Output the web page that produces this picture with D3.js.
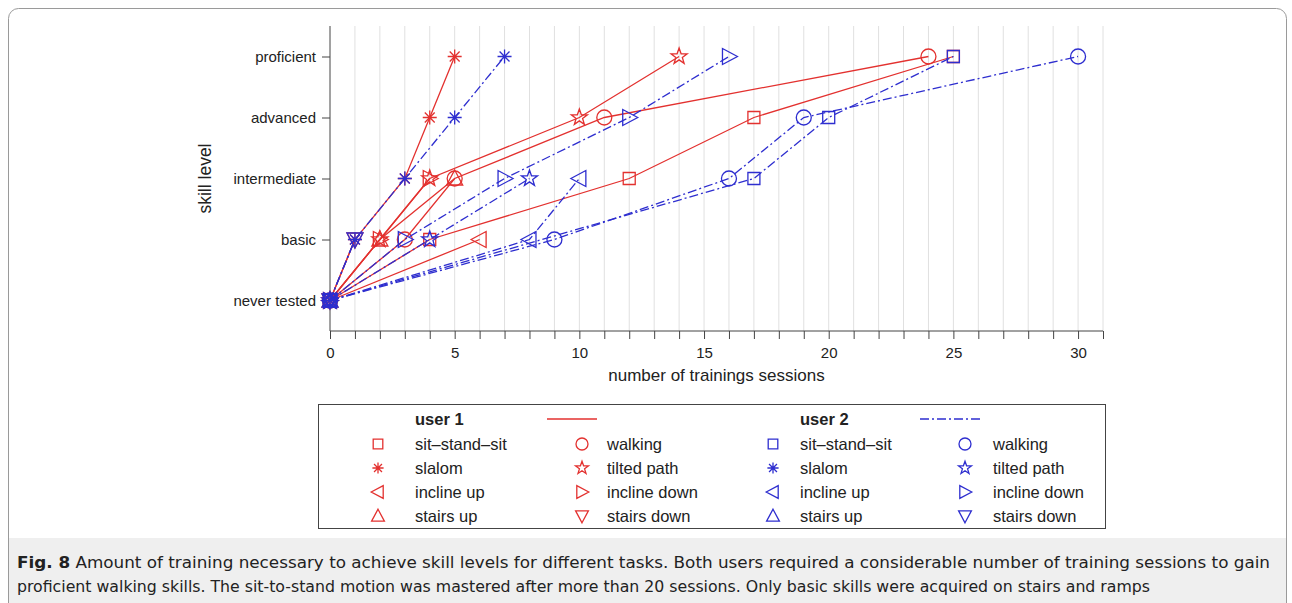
<!DOCTYPE html>
<html>
<head>
<meta charset="utf-8">
<script src="https://cdn.jsdelivr.net/npm/d3@7"></script>
<style>
  body { margin: 0; background: #fff; }
  svg { display: block; }
  text { font-family: "Liberation Sans", Arial, Helvetica, sans-serif; fill: #222; }
</style>
</head>
<body>
<svg id="chart" width="1292" height="603"></svg>
<script>
// Skill levels (y axis) and tasks
const levels = ["never tested", "basic", "intermediate", "advanced", "proficient"];
const tasks = ["sit\u2013stand\u2013sit", "walking", "slalom", "tilted path",
               "incline up", "incline down", "stairs up", "stairs down"];

// Session number at which each level was first reached (index = level; null = level skipped)
const u1SitStandSit = [0, 4, 12, 17, 25];
const u1Walking     = [0, 3, 5, 11, 24];
const u1Slalom      = [0, 1, 3, 4, 5];
const u1TiltedPath  = [0, 2, 4, 10, 14];
const u1InclineUp   = [0, 6];
const u1InclineDown = [0, 2, 4];
const u1StairsUp    = [0, 2, 5];
const u1StairsDown  = [0, 1];

const u2SitStandSit = [0, null, 17, 20, 25];
const u2Walking     = [0, 9, 16, 19, 30];
const u2Slalom      = [0, 1, 3, 5, 7];
const u2TiltedPath  = [0, 4, 8];
const u2InclineUp   = [0, 8, 10];
const u2InclineDown = [0, 3, 7, 12, 16];
const u2StairsUp    = [0];
const u2StairsDown  = [0, 1];

const xTicks = d3.range(0, 32);
const xTickLabels = [0, 5, 10, 15, 20, 25, 30];

const caption1 = "Amount of training necessary to achieve skill levels for different tasks. Both users required a considerable number of training sessions to gain";
const caption2 = "proficient walking skills. The sit-to-stand motion was mastered after more than 20 sessions. Only basic skills were acquired on stairs and ramps";

// Styling
const markerTypes = ["square", "circle", "asterisk", "star", "triLeft", "triRight", "triUp", "triDown"];
const users = [
  { name: "user 1", color: "#e3312f", dash: null,
    series: [u1SitStandSit, u1Walking, u1Slalom, u1TiltedPath, u1InclineUp, u1InclineDown, u1StairsUp, u1StairsDown] },
  { name: "user 2", color: "#2e2ecf", dash: "9,3,2,3",
    series: [u2SitStandSit, u2Walking, u2Slalom, u2TiltedPath, u2InclineUp, u2InclineDown, u2StairsUp, u2StairsDown] }
];

function markerPath(type, s) {
  const f = v => (v * s).toFixed(2);
  switch (type) {
    case "square": { const h = 6; return `M${f(-h)},${f(-h)}H${f(h)}V${f(h)}H${f(-h)}Z`; }
    case "circle": { const c = 7.5; return `M${f(c)},0A${f(c)},${f(c)} 0 1,1 ${f(-c)},0A${f(c)},${f(c)} 0 1,1 ${f(c)},0Z`; }
    case "triUp":    return `M0,${f(-8.5)}L${f(8)},${f(6.5)}L${f(-8)},${f(6.5)}Z`;
    case "triDown":  return `M0,${f(8.5)}L${f(8)},${f(-6.5)}L${f(-8)},${f(-6.5)}Z`;
    case "triLeft":  return `M${f(-8.5)},0L${f(6.5)},${f(-8)}L${f(6.5)},${f(8)}Z`;
    case "triRight": return `M${f(8.5)},0L${f(-6.5)},${f(-8)}L${f(-6.5)},${f(8)}Z`;
    case "star": {
      const R = 8.5, r = R * 0.40;
      let p = "";
      for (let k = 0; k < 10; k++) {
        const a = -Math.PI / 2 + k * Math.PI / 5, rr = k % 2 ? r : R;
        p += (k ? "L" : "M") + f(rr * Math.cos(a)) + "," + f(rr * Math.sin(a));
      }
      return p + "Z";
    }
    case "asterisk": {
      const R = 7, d = R * Math.SQRT1_2;
      return `M${f(-R)},0H${f(R)}M0,${f(-R)}V${f(R)}M${f(-d)},${f(-d)}L${f(d)},${f(d)}M${f(-d)},${f(d)}L${f(d)},${f(-d)}`;
    }
  }
}

const svg = d3.select("#chart");

// Outer frame
svg.append("path")
  .attr("d", "M8.5,603V18.5A10,10 0 0 1 18.5,8.5H1276.5A10,10 0 0 1 1286.5,18.5V603")
  .attr("fill", "none").attr("stroke", "#9a9a9a").attr("stroke-width", 1);

// Caption panel
svg.append("rect").attr("x", 9).attr("y", 538).attr("width", 1277).attr("height", 65).attr("fill", "#efefef");

// Scales
const x = d3.scaleLinear().domain([0, 31]).range([330, 1103]);
const y = d3.scaleLinear().domain([-0.5, 4.5]).range([331, 26]);

// Vertical grid
svg.append("g").selectAll("line").data(xTicks.filter(d => d > 0)).join("line")
  .attr("x1", d => x(d)).attr("x2", d => x(d)).attr("y1", y(4.5)).attr("y2", y(-0.5))
  .attr("stroke", "#e0e0e0").attr("stroke-width", 1);

// Axes
const xAxis = d3.axisBottom(x).tickValues(xTicks).tickSize(8)
  .tickFormat(d => xTickLabels.includes(d) ? d : "");
const gx = svg.append("g").attr("transform", `translate(0,${y(-0.5)})`).call(xAxis);
gx.select(".domain").attr("stroke", "#444").attr("d", `M${x(0)},0H${x(31)}`);
gx.selectAll(".tick line").attr("stroke", "#444");
gx.selectAll(".tick text").attr("font-size", 15).attr("fill", "#222").attr("y", 13).attr("dy", "0.95em");

const yAxis = d3.axisLeft(y).tickValues(d3.range(levels.length)).tickSize(8)
  .tickFormat(d => levels[d]);
const gy = svg.append("g").attr("transform", `translate(${x(0)},0)`).call(yAxis);
gy.select(".domain").attr("stroke", "#444").attr("d", `M0,${y(4.5)}V${y(-0.5)}`);
gy.selectAll(".tick line").attr("stroke", "#444");
gy.selectAll(".tick text").attr("font-size", 15).attr("fill", "#222").attr("x", -14);
svg.selectAll(".tick text").style("font-family", '"Liberation Sans", Arial, sans-serif');

// Axis titles
svg.append("text").attr("x", (x(0) + x(31)) / 2).attr("y", 381).attr("text-anchor", "middle")
  .attr("font-size", 17).text("number of trainings sessions");
svg.append("text").attr("transform", `translate(211,${y(2)}) rotate(-90)`).attr("text-anchor", "middle")
  .attr("font-size", 17.5).text("skill level");

// Series
const line = d3.line().x(d => x(d.x)).y(d => y(d.y));
const plot = svg.append("g");
users.forEach(u => {
  u.series.forEach((sessions, ti) => {
    const pts = sessions.map((s, lv) => s == null ? null : { x: s, y: lv }).filter(Boolean);
    const g = plot.append("g");
    g.append("path").datum(pts).attr("d", line)
      .attr("fill", "none").attr("stroke", u.color).attr("stroke-width", 1.3)
      .attr("stroke-dasharray", u.dash);
    g.selectAll("path.m").data(pts).join("path").attr("class", "m")
      .attr("transform", d => `translate(${x(d.x)},${y(d.y)})`)
      .attr("d", markerPath(markerTypes[ti], 1))
      .attr("fill", "none").attr("stroke", u.color).attr("stroke-width", 1.3);
  });
});

// Legend
const legend = svg.append("g");
legend.append("rect").attr("x", 318.5).attr("y", 404.5).attr("width", 787).attr("height", 124)
  .attr("fill", "#fff").attr("stroke", "#444").attr("stroke-width", 1);
const rowY = [419, 444, 468, 492, 516];
const markerX = [378, 582, 773, 965];
const textX = [415, 607, 800, 993];
const sampleX = [[547, 597], [920, 983]];
users.forEach((u, ui) => {
  legend.append("text").attr("x", textX[ui * 2]).attr("y", rowY[0] + 6)
    .attr("font-size", 16.5).attr("font-weight", "bold").text(u.name);
  legend.append("line").attr("x1", sampleX[ui][0]).attr("x2", sampleX[ui][1])
    .attr("y1", rowY[0]).attr("y2", rowY[0])
    .attr("stroke", u.color).attr("stroke-width", 1.3).attr("stroke-dasharray", u.dash);
  tasks.forEach((t, ti) => {
    const col = ui * 2 + (ti % 2), row = 1 + Math.floor(ti / 2);
    legend.append("path").attr("transform", `translate(${markerX[col]},${rowY[row]})`)
      .attr("d", markerPath(markerTypes[ti], 0.8))
      .attr("fill", "none").attr("stroke", u.color).attr("stroke-width", 1.3);
    legend.append("text").attr("x", textX[col]).attr("y", rowY[row] + 6)
      .attr("font-size", 16.5).text(t);
  });
});

// Caption
const capFont = '"Liberation Sans Narrow", "DejaVu Sans Condensed", "Open Sans", sans-serif';
const c1 = svg.append("text").attr("x", 17).attr("y", 568).attr("font-size", 16.5)
  .style("font-family", capFont).attr("textLength", 1253).attr("lengthAdjust", "spacingAndGlyphs");
c1.append("tspan").attr("font-weight", "bold").text("Fig. 8");
c1.append("tspan").text(" " + caption1);
svg.append("text").attr("x", 17).attr("y", 592).attr("font-size", 16.5)
  .style("font-family", capFont).attr("textLength", 1133).attr("lengthAdjust", "spacingAndGlyphs")
  .text(caption2);
</script>
</body>
</html>
